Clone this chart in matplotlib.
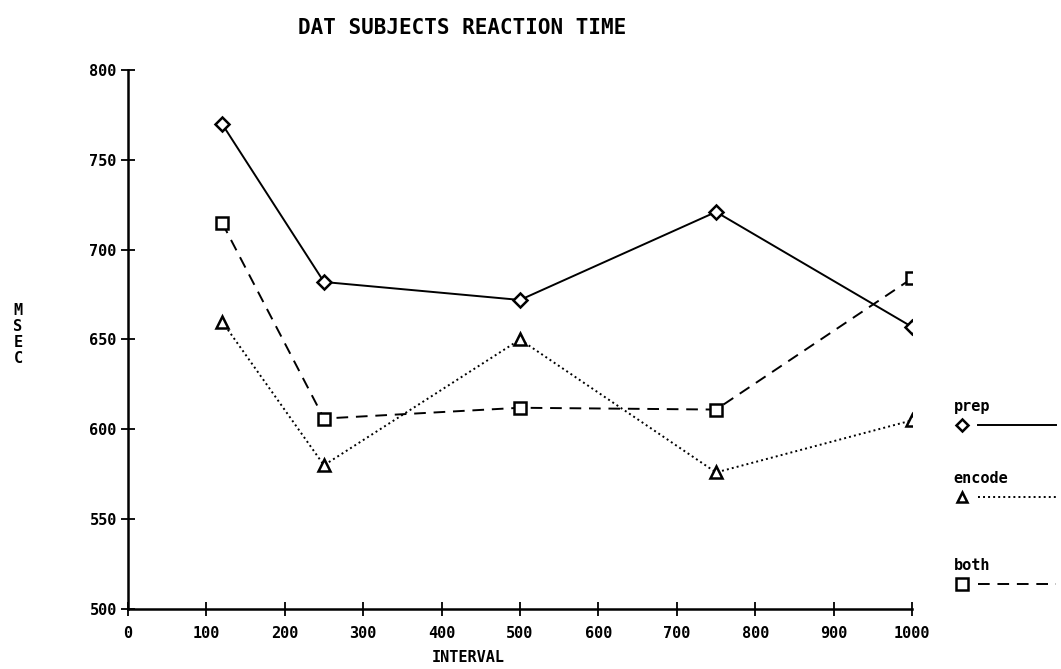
import matplotlib.pyplot as plt
from matplotlib.lines import Line2D

intervals = [120, 250, 500, 750, 1000]
prep = [770, 682, 672, 721, 657]
encode = [660, 580, 650, 576, 605]
both = [715, 606, 612, 611, 684]

series_names = ["prep", "encode", "both"]
x_ticks = [0, 100, 200, 300, 400, 500, 600, 700, 800, 900, 1000]
y_ticks = [500, 550, 600, 650, 700, 750, 800]

plt.rcParams['font.family'] = ['DejaVu Sans Mono']
plt.rcParams['font.weight'] = 'bold'

fig = plt.figure(figsize=(10.61, 6.69), dpi=100)
ax = fig.add_axes([0.1206, 0.0897, 0.739, 0.8057])

styles = [
    dict(marker='D', linestyle='-', markersize=7),
    dict(marker='^', linestyle=(0, (1, 1.6)), markersize=8),
    dict(marker='s', linestyle=(0, (6, 4)), markersize=9),
]
for vals, st in zip([prep, encode, both], styles):
    ax.plot(intervals, vals, color='black', linewidth=1.4, markerfacecolor='white',
            markeredgewidth=1.8, **st)

ax.set_xlim(0, 1000)
ax.set_ylim(500, 800)
ax.set_xticks(x_ticks)
ax.set_yticks(y_ticks)
ax.spines['top'].set_visible(False)
ax.spines['right'].set_visible(False)
ax.spines['left'].set_linewidth(1.8)
ax.spines['bottom'].set_linewidth(1.8)
ax.tick_params(axis='both', direction='inout', length=10, width=1.3, labelsize=11)
ax.tick_params(axis='x', pad=7)
ax.tick_params(axis='y', pad=3)

fig.text(0.441, 0.017, "INTERVAL", ha='center', va='center', fontsize=11)
fig.text(0.017, 0.5, "M\nS\nE\nC", ha='center', va='center', fontsize=11, linespacing=1.1)
fig.text(0.436, 0.958, "DAT SUBJECTS REACTION TIME", ha='center', va='center', fontsize=15)

# legend block on the right
leg_y = [0.365, 0.257, 0.127]
for name, st, yy in zip(series_names, styles, leg_y):
    fig.text(0.899, yy + 0.028, name, ha='left', va='center', fontsize=11)
    fig.add_artist(Line2D([0.922, 0.995], [yy, yy], transform=fig.transFigure,
                          color='black', linewidth=1.4, linestyle=st['linestyle']))
    fig.add_artist(Line2D([0.907], [yy], transform=fig.transFigure, color='black',
                          marker=st['marker'], markersize=st['markersize'] - 1,
                          markerfacecolor='white', markeredgewidth=1.8, linestyle='none'))

fig.savefig("out.png", dpi=100)
